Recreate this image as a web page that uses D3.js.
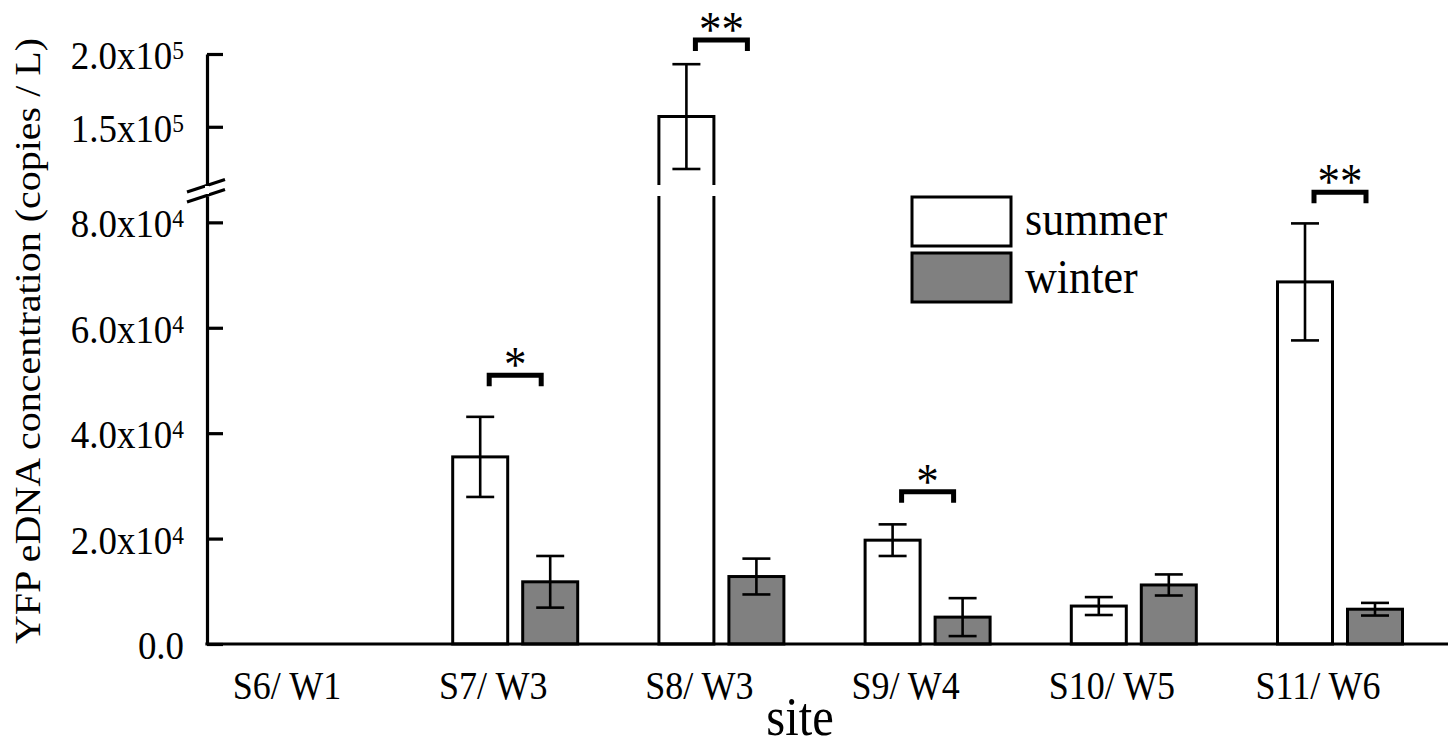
<!DOCTYPE html>
<html>
<head>
<meta charset="utf-8">
<script src="https://cdn.jsdelivr.net/npm/d3@7"></script>
<style>
  body { margin: 0; background: #fff; }
  svg { display: block; }
  text { font-family: "Liberation Serif", "Times New Roman", serif; fill: #000; }
</style>
</head>
<body>
<div class="chart"></div>
<script>
// values
var sites = ["S6/ W1", "S7/ W3", "S8/ W3", "S9/ W4", "S10/ W5", "S11/ W6"];
var summer    = [null, 35500, 157000, 19700, 7200, 68700];
var summerErr = [null, 7600, 36000, 3000, 1700, 11100];
var winter    = [null, 11800, 12800, 5100, 11200, 6600];
var winterErr = [null, 4900, 3400, 3600, 2000, 1200];

var sigSites  = ["S7/ W3", "S8/ W3", "S9/ W4", "S11/ W6"];
var sigLabels = ["*", "**", "*", "**"];
var sigLevels = [51000, 209600, 28900, 85700];

var lowerTicks = [0, 20000, 40000, 60000, 80000];
var lowerTickLabels = [["0.0", ""], ["2.0x10", "4"], ["4.0x10", "4"], ["6.0x10", "4"], ["8.0x10", "4"]];
var upperTicks = [150000, 200000];
var upperTickLabels = [["1.5x10", "5"], ["2.0x10", "5"]];

var seriesNames = ["summer", "winter"];
var seriesFill = ["#ffffff", "#808080"];

var width = 1448, height = 749;
var axisX = 207, baseY = 644;
var squeeze = 0.9;   // figure text is a little narrow

var svg = d3.select(".chart").append("svg")
    .attr("width", width)
    .attr("height", height);

var x = d3.scalePoint().domain(sites).range([287, 1318]);
var barShift = 22, barW = 55, barGap = 15;

var lowerMax = 85000, upperMin = 110000;
var yLow = d3.scaleLinear().domain([0, lowerMax]).range([baseY, 196]);
var yHigh = d3.scaleLinear().domain([upperMin, 200000]).range([185, 54]);
function yv(v){
	return v <= 90000 ? yLow(v) : yHigh(v);
}

function sText(g, tx, ty, size, anchor){
	return g.append("text")
		.attr("transform", "translate(" + tx + "," + ty + ") scale(" + squeeze + ",1)")
		.attr("text-anchor", anchor)
		.style("font-size", size + "px");
}

// y axis, two pieces
var lowAxis = d3.axisRight(yLow).tickValues(lowerTicks).tickSize(16).tickSizeOuter(0).tickFormat("");
var highAxis = d3.axisRight(yHigh).tickValues(upperTicks).tickSize(16).tickSizeOuter(0).tickFormat("");
[lowAxis, highAxis].forEach(function(ax){
	var g = svg.append("g").attr("transform", "translate(" + axisX + ",0)").call(ax);
	g.selectAll("path, line").attr("stroke", "#000").attr("stroke-width", 3.2);
});

// break marks on the axis
svg.selectAll("line.brk").data([0, 10]).enter().append("line")
	.attr("class", "brk")
	.attr("x1", axisX - 20).attr("x2", axisX + 18)
	.attr("y1", function(d){ return 192 + d; })
	.attr("y2", function(d){ return 179.5 + d; })
	.attr("stroke", "#000").attr("stroke-width", 3.2);
// white gap between the two marks
svg.append("line")
	.attr("x1", axisX).attr("x2", axisX)
	.attr("y1", 186).attr("y2", 194)
	.attr("stroke", "#fff").attr("stroke-width", 4);

function tickLabel(vals, labels, scale){
	vals.forEach(function(v, i){
		var t = sText(svg, 184, scale(v) + 15, 41, "end");
		t.append("tspan").text(labels[i][0]);
		if(labels[i][1]){
			t.append("tspan").attr("dy", -10).style("font-size", "26px").text(labels[i][1]);
		}
	});
}
tickLabel(lowerTicks, lowerTickLabels, yLow);
tickLabel(upperTicks, upperTickLabels, yHigh);

// y title
svg.append("text")
	.attr("transform", "translate(40,341) scale(" + squeeze + ",1) rotate(-90)")
	.attr("text-anchor", "middle")
	.style("font-size", "40px")
	.text("YFP eDNA concentration (copies / L)");

// bars
var bars = [];
sites.forEach(function(s, i){
	if(summer[i] !== null) bars.push({site: s, k: 0, v: summer[i], e: summerErr[i]});
	if(winter[i] !== null) bars.push({site: s, k: 1, v: winter[i], e: winterErr[i]});
});
function barX(d){
	var c = x(d.site) + barShift;
	return d.k === 0 ? c - barGap / 2 - barW : c + barGap / 2;
}

var barG = svg.append("g");
bars.forEach(function(d){
	var x0 = barX(d), x1 = x0 + barW;
	if(d.v <= lowerMax){
		barG.append("rect")
			.attr("x", x0).attr("y", yLow(d.v))
			.attr("width", barW).attr("height", baseY - yLow(d.v))
			.attr("fill", seriesFill[d.k])
			.attr("stroke", "#000").attr("stroke-width", 3);
	}else{
		// bar runs across the axis break
		barG.append("path")
			.attr("d", "M" + x0 + "," + yLow.range()[1] + "V" + baseY + "H" + x1 + "V" + yLow.range()[1])
			.attr("fill", seriesFill[d.k]).attr("stroke", "#000").attr("stroke-width", 3);
		barG.append("path")
			.attr("d", "M" + x0 + "," + yHigh.range()[0] + "V" + yHigh(d.v) + "H" + x1 + "V" + yHigh.range()[0])
			.attr("fill", seriesFill[d.k]).attr("stroke", "#000").attr("stroke-width", 3);
	}
});

// error bars
var errG = svg.append("g").attr("stroke", "#000").attr("stroke-width", 2.6);
bars.forEach(function(d){
	var cx = barX(d) + barW / 2;
	errG.append("line").attr("x1", cx).attr("x2", cx)
		.attr("y1", yv(d.v + d.e)).attr("y2", yv(d.v - d.e));
	[d.v + d.e, d.v - d.e].forEach(function(v){
		errG.append("line").attr("x1", cx - 14).attr("x2", cx + 14)
			.attr("y1", yv(v)).attr("y2", yv(v));
	});
});

// x axis line
svg.append("line")
	.attr("x1", axisX - 1.6).attr("x2", width)
	.attr("y1", baseY).attr("y2", baseY)
	.attr("stroke", "#000").attr("stroke-width", 3.2);

sites.forEach(function(s){
	sText(svg, x(s), 699, 40, "middle").text(s);
});

sText(svg, 800, 735, 54, "middle").text("site");

// significance brackets
sigSites.forEach(function(s, i){
	var c = x(s) + barShift, top = yv(sigLevels[i]);
	svg.append("path")
		.attr("d", "M" + (c - 26) + "," + (top + 11) + "V" + top + "H" + (c + 26) + "V" + (top + 11))
		.attr("fill", "none").attr("stroke", "#000").attr("stroke-width", 5);
	sText(svg, c, top + 6, 50, "middle").text(sigLabels[i]);
});

// legend
var leg = svg.append("g");
seriesNames.forEach(function(n, i){
	leg.append("rect")
		.attr("x", 912).attr("y", 197 + i * 56)
		.attr("width", 99).attr("height", 49)
		.attr("fill", seriesFill[i])
		.attr("stroke", "#000").attr("stroke-width", 3);
	sText(leg, 1025, 235 + i * 58, 49, "start").text(n);
});
</script>
</body>
</html>
